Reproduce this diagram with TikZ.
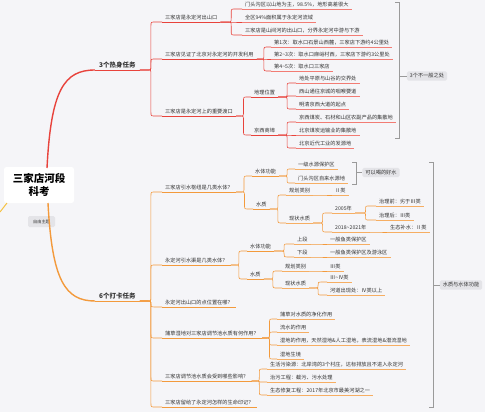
\documentclass[tikz,border=0pt]{standalone}
\usepackage{fontspec}
\setmainfont{Noto Sans CJK SC}
\usetikzlibrary{calc}
\definecolor{bg}{HTML}{F5F5F8}
\definecolor{redA}{HTML}{E8433C}
\definecolor{redL}{HTML}{F27C74}
\definecolor{orA}{HTML}{F39A3C}
\definecolor{orL}{HTML}{F6AE63}
\definecolor{txt}{HTML}{333333}
\definecolor{brk}{HTML}{9A9A9A}
\definecolor{lblc}{HTML}{E4E4E8}
\definecolor{yel}{HTML}{F5C242}
\newcommand\mmT[5]{\node[topic] (#1) at ({#2-3},#3) {#5};\draw[#4] (#1.south west) -- (#1.south east);}
\newcommand\mmC[3]{\draw[#1] (#2.south east) to[elbow] (#3.south west);}
\begin{document}
\begin{tikzpicture}[x=1pt,y=-1pt,
  topic/.style={anchor=south west, inner xsep=3pt, inner ysep=1pt, text height=4.3pt, text depth=1.1pt, font=\fontsize{5.2}{6}\selectfont, text=txt},
  head/.style={anchor=south west, inner xsep=4pt, inner ysep=1.2pt, text height=5.4pt, text depth=1.3pt, font=\bfseries\fontsize{6.5}{7}\selectfont, text=txt},
  rl/.style={draw=redL, line width=0.6pt},
  rc/.style={draw=redA, line width=0.6pt},
  ol/.style={draw=orL, line width=0.6pt},
  oc/.style={draw=orA, line width=0.6pt},
  lbl/.style={fill=lblc, rounded corners=1.5pt, inner xsep=3pt, inner ysep=2.2pt, font=\fontsize{5.2}{6}\selectfont, text=txt},
  brack/.style={draw=brk, line width=0.7pt},
  elbow/.style={to path={let \p1=(\tikztostart), \p2=(\tikztotarget), \n1={(\x1+\x2)/2}, \n2={min(4pt,abs(\y2-\y1)/2)*sign(\y2-\y1)} in -- ({\n1-abs(\n2)},\y1) .. controls (\n1,\y1) .. (\n1,{\y1+\n2}) -- (\n1,{\y2-\n2}) .. controls (\n1,\y2) .. ({\n1+abs(\n2)},\y2) -- (\tikztotarget)}}
]
\fill[bg] (0,0) rectangle (485,412);
\useasboundingbox (0,0) rectangle (485,412);

% root
\node[fill=white, rounded corners=2.5pt, minimum width=70pt, minimum height=36pt, align=center, font=\bfseries\fontsize{10.5}{13}\selectfont, text=black] (R) at (39,185) {三家店河段\\科考};
\node[fill=lblc, rounded corners=1.5pt, minimum width=27pt, minimum height=11pt, inner sep=1pt, font=\fontsize{4.2}{5}\selectfont, text=txt] (free) at (41.5,221.5) {自由主题};
\coordinate (ytop) at (7,203);
\coordinate (yend) at (0,212);
\draw[yel, line width=1pt] (ytop) .. controls (4,207) .. (yend);

% heads
\node[head] (A) at (95,70) {3个热身任务};
\draw[rc] (A.south west) -- (A.south east);
\node[head] (B) at (95,301) {6个打卡任务};
\draw[oc] (B.south west) -- (B.south east);
\coordinate (Rt) at (47,168);
\coordinate (Rb) at (48,203);
\draw[redA, line width=1.4pt] (Rt) .. controls (51,90) and (64,70) .. (A.south west);
\draw[orA, line width=1.4pt] (Rb) .. controls (52,280) and (65,301) .. (B.south west);

% ===== top section =====
\mmT{A1}{165}{22}{rc}{三家店是永定河出山口}
\mmT{A11}{245}{9}{rl}{门头沟区以山地为主，98.5\%，地形高差很大}
\mmT{A12}{245}{22}{rl}{全区94\%面积属于永定河流域}
\mmT{A13}{245}{35}{rl}{三家店是山间河的出山口，分界永定河中游与下游}
\mmT{A2}{165}{59}{rc}{三家店见证了北京对永定河的开发利用}
\mmT{A21}{274}{47}{rl}{第1次：取水口石景山西麓，三家店下游约4公里处}
\mmT{A22}{274}{59}{rl}{第2\textasciitilde 3次：取水口麻峪村西，三家店下游约3公里处}
\mmT{A23}{274}{71}{rl}{第4\textasciitilde 5次：取水口三家店}
\mmT{A3}{165}{116}{rc}{三家店是永定河上的重要渡口}
\mmT{A31}{254}{97}{rc}{地理位置}
\mmT{A311}{299}{83}{rl}{地处平原与山谷的交界处}
\mmT{A312}{299}{96}{rl}{西山通往京城的咽喉要道}
\mmT{A313}{299}{109}{rl}{明清京西大道的起点}
\mmT{A32}{254}{135}{rc}{京西商埠}
\mmT{A321}{299}{122}{rl}{京西煤炭、石材和山区农副产品的集散地}
\mmT{A322}{299}{135}{rl}{北京煤炭运输业的集散地}
\mmT{A323}{299}{148}{rl}{北京近代工业的发源地}

\mmC{rc}{A}{A1} \mmC{rc}{A}{A2} \mmC{rc}{A}{A3}
\mmC{rc}{A1}{A11} \mmC{rc}{A1}{A12} \mmC{rc}{A1}{A13}
\mmC{rc}{A2}{A21} \mmC{rc}{A2}{A22} \mmC{rc}{A2}{A23}
\mmC{rc}{A3}{A31} \mmC{rc}{A3}{A32}
\mmC{rc}{A31}{A311} \mmC{rc}{A31}{A312} \mmC{rc}{A31}{A313}
\mmC{rc}{A32}{A321} \mmC{rc}{A32}{A322} \mmC{rc}{A32}{A323}

% top bracket
\node[lbl] (L1) at (427,76) {3个不一般之处};
\coordinate (b1t) at (399,2);
\coordinate (b1b) at (399,138);
\draw[brack] ($(b1t)+(-4,0)$) -- (b1t) -- (b1b) -- ($(b1b)+(-4,0)$);
\draw[brack] (399,76) -- (L1.west);

% ===== bottom section =====
\mmT{B1}{165}{192}{oc}{三家店引水枢纽是几类水体？}
\mmT{B11}{255}{176}{oc}{水体功能}
\mmT{B111}{298}{169}{ol}{一级水源保护区}
\mmT{B112}{298}{183}{ol}{门头沟区自来水源地}
\mmT{B12}{256}{209}{oc}{水质}
\mmT{B121}{289}{195}{ol}{规划类别}
\mmT{B1211}{335}{195}{ol}{Ⅱ类}
\mmT{B122}{289}{223}{ol}{现状水质}
\mmT{B1221}{335}{213}{ol}{2005年}
\mmT{B12211}{379}{206}{ol}{治理前：劣于Ⅲ类}
\mmT{B12212}{379}{220}{ol}{治理后：Ⅲ类}
\mmT{B1222}{335}{232}{ol}{2018\textasciitilde 2021年}
\mmT{B12221}{390}{232}{ol}{生态补水：Ⅱ类}

\mmT{B2}{165}{265}{oc}{永定河引水渠是几类水体？}
\mmT{B21}{250}{251}{oc}{水体功能}
\mmT{B211}{297}{244}{ol}{上段}
\mmT{B2111}{330}{244}{ol}{一般鱼类保护区}
\mmT{B212}{297}{257}{ol}{下段}
\mmT{B2121}{330}{257}{ol}{一般鱼类保护区及游泳区}
\mmT{B22}{250}{279}{oc}{水质}
\mmT{B221}{285}{271}{ol}{规划类别}
\mmT{B2211}{330}{271}{ol}{Ⅲ类}
\mmT{B222}{285}{288}{ol}{现状水质}
\mmT{B2221}{330}{282}{ol}{Ⅲ\textasciitilde Ⅳ类}
\mmT{B2222}{330}{295}{ol}{河道出现处：Ⅳ类以上}

\mmT{B3}{165}{307}{oc}{永定河出山口的点位置在哪？}
\mmT{B4}{165}{338}{oc}{蒲草湿地对三家店调节池水质有何作用？}
\mmT{B41}{280}{319}{ol}{蒲草对水质的净化作用}
\mmT{B42}{280}{332}{ol}{流水的作用}
\mmT{B43}{280}{345}{ol}{湿地的作用，天然湿地\&人工湿地，表流湿地\&潜流湿地}
\mmT{B44}{280}{359}{ol}{湿地生境}
\mmT{B5}{165}{381}{oc}{三家店调节池水质会受到哪些影响？}
\mmT{B51}{270}{369}{ol}{生活污染源：北岸湾的3个村庄，达标排放且不进入永定河}
\mmT{B52}{270}{382}{ol}{治污工程：截污、污水处理}
\mmT{B53}{270}{395}{ol}{生态修复工程：2017年北京市最美河湖之一}
\mmT{B6}{165}{407}{oc}{三家店留给了永定河怎样的生命印记？}

\mmC{oc}{B}{B1} \mmC{oc}{B}{B2} \mmC{oc}{B}{B3} \mmC{oc}{B}{B4} \mmC{oc}{B}{B5} \mmC{oc}{B}{B6}
\mmC{oc}{B1}{B11} \mmC{oc}{B1}{B12}
\mmC{oc}{B11}{B111} \mmC{oc}{B11}{B112}
\mmC{oc}{B12}{B121} \mmC{oc}{B12}{B122}
\mmC{oc}{B121}{B1211}
\mmC{oc}{B122}{B1221} \mmC{oc}{B122}{B1222}
\mmC{oc}{B1221}{B12211} \mmC{oc}{B1221}{B12212}
\mmC{oc}{B1222}{B12221}
\mmC{oc}{B2}{B21} \mmC{oc}{B2}{B22}
\mmC{oc}{B21}{B211} \mmC{oc}{B21}{B212}
\mmC{oc}{B211}{B2111} \mmC{oc}{B212}{B2121}
\mmC{oc}{B22}{B221} \mmC{oc}{B22}{B222}
\mmC{oc}{B221}{B2211}
\mmC{oc}{B222}{B2221} \mmC{oc}{B222}{B2222}
\mmC{oc}{B4}{B41} \mmC{oc}{B4}{B42} \mmC{oc}{B4}{B43} \mmC{oc}{B4}{B44}
\mmC{oc}{B5}{B51} \mmC{oc}{B5}{B52} \mmC{oc}{B5}{B53}

% bracket: drinkable water
\node[lbl] (L2) at (381,172.5) {可以喝的好水};
\coordinate (b2t) at (356,162);
\coordinate (b2b) at (356,184);
\draw[brack] ($(b2t)+(-4,0)$) -- (b2t) -- (b2b) -- ($(b2b)+(-4,0)$);
\draw[brack] (356,172.5) -- (L2.west);

% bracket: water quality
\node[lbl] (L3) at (461,285) {水质与水体功能};
\coordinate (b3t) at (433,162);
\coordinate (b3b) at (433,407);
\draw[brack] ($(b3t)+(-4,0)$) -- (b3t) -- (b3b) -- ($(b3b)+(-4,0)$);
\draw[brack] (433,285) -- (L3.west);
\end{tikzpicture}
\end{document}
